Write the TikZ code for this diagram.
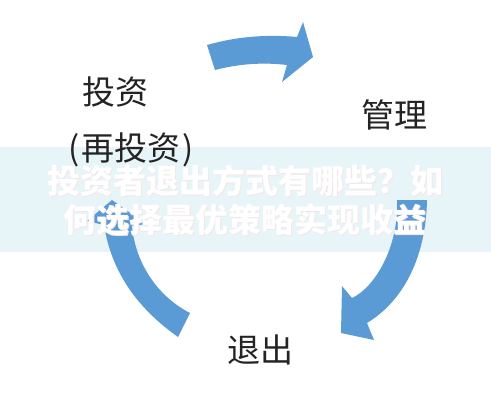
\documentclass[tikz,border=0pt]{standalone}
\usepackage{fontspec}
\newfontfamily\cjk{Noto Sans CJK SC}
\definecolor{arrowblue}{RGB}{91,155,213}
\definecolor{bandcol}{RGB}{232,245,248}
\definecolor{shadowcol}{RGB}{244,230,232}
\definecolor{labeltext}{RGB}{35,35,35}
\tikzset{
  arrowfill/.style={fill=arrowblue, draw=none},
  lbl/.style={font=\cjk\fontsize{33}{38}\selectfont, text=labeltext, inner sep=0pt},
  overlay/.style={font=\cjk\bfseries\fontsize{33}{39}\selectfont, inner sep=0pt, align=center},
}
\begin{document}
\begin{tikzpicture}[x=1pt,y=-1pt]
\useasboundingbox (0,0) rectangle (491,400);
\fill[white] (0,0) rectangle (491,400);
% overlay band
\fill[bandcol] (0,147) rectangle (491,252);
% top arrow
\path[arrowfill] (207,45) .. controls (235,37) and (265,34) .. (297,37) -- (303,22) -- (313,57) -- (282,82) -- (287,65) .. controls (262,62) and (238,64) .. (215,70) -- cycle;
% right arrow
\path[arrowfill] (397,200) -- (427,200) .. controls (426,255) and (405,300) .. (367,323) -- (374,340) -- (341,333) -- (342,286) -- (352,298) .. controls (374,288) and (399,248) .. cycle;
% left arrow
\path[arrowfill] (112,200) -- (146,224) -- (132,226) .. controls (135,260) and (155,295) .. (190,313) -- (178,337) .. controls (140,310) and (112,275) .. (104,225) -- (87,221) -- cycle;
% labels
\node[lbl] (inv) at (115,92) {投资};
\node[lbl] (reinv) at (131,150) {(\kern2pt 再投资\kern2pt)};
\node[lbl] (mgmt) at (394,115) {管理};
\node[lbl] (exit) at (260,350) {退出};
% overlay title
\node[overlay, text=shadowcol] (shadow) at (246.5,201.5) {投资者退出方式有哪些？如\\何选择最优策略实现收益};
\node[overlay, text=white] (title) at (245.5,200.5) {投资者退出方式有哪些？如\\何选择最优策略实现收益};
\end{tikzpicture}
\end{document}
